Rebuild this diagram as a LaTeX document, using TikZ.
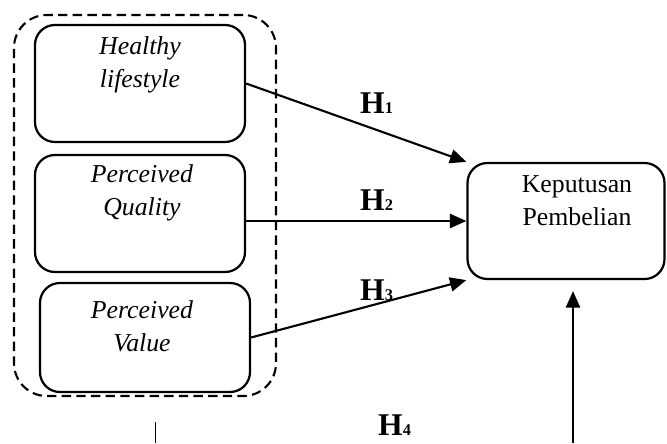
\documentclass[tikz,border=0pt]{standalone}
\usepackage{fontspec}
\setmainfont{Liberation Serif}
\usetikzlibrary{arrows.meta}
\newcommand{\hipo}[1]{H{\fontsize{14}{14}\selectfont #1}}

\begin{document}
\begin{tikzpicture}[x=0.03cm, y=-0.03cm,
    caixa/.style={draw, line width=1.9pt, rounded corners=17pt},
    grupo/.style={draw, line width=1.8pt, dash pattern=on 8pt off 4.5pt, rounded corners=28pt},
    texto/.style={font=\fontsize{22}{28}\selectfont, align=center, inner sep=0pt, anchor=base},
    italico/.style={texto, font=\fontsize{22}{28}\selectfont\itshape},
    rotulo/.style={font=\fontsize{27}{30}\selectfont\bfseries, inner sep=0pt, text depth=0pt, anchor=base west},
    seta/.style={line width=1.8pt, -{Triangle[length=14pt, width=12pt]}}]
    \useasboundingbox (0,0) rectangle (667,443);
    % caixa tracejada em volta das variaveis
    \node[grupo, minimum width=7.86cm, minimum height=11.43cm] (G) at (145,205.5) {};
    % caixas das variaveis independentes
    \node[caixa, minimum width=6.3cm, minimum height=3.51cm] (HL) at (140,83.5) {};
    \node[italico] (HLt) at (140,87) {Healthy\\lifestyle};
    \node[caixa, minimum width=6.3cm, minimum height=3.51cm] (PQ) at (140,213.5) {};
    \node[italico] (PQt) at (142,215) {Perceived\\Quality};
    \node[caixa, minimum width=6.3cm, minimum height=3.27cm] (PV) at (145,337.5) {};
    \node[italico] (PVt) at (142,351) {Perceived\\Value};
    % caixa da variavel dependente
    \node[caixa, minimum width=5.91cm, minimum height=3.48cm] (KP) at (566,221) {};
    \node[texto] (KPt) at (577,225) {Keputusan\\Pembelian};
    % setas com as hipoteses
    \draw[seta] (HL.east) -- (KP.north west);
    \draw[seta] (PQ.east |- KP.west) -- (KP.west);
    \draw[seta] (PV.east) -- (KP.south west);
    \node[rotulo] (H1) at (360,113) {\hipo{1}};
    \node[rotulo] (H2) at (360,210) {\hipo{2}};
    \node[rotulo] (H3) at (360,300) {\hipo{3}};
    \node[rotulo] (H4) at (378,435) {\hipo{4}};
    % seta vertical que vem de baixo
    \coordinate (B4) at (573,443);
    \draw[seta, shorten >=0.33cm] (B4) -- (B4 |- KP.south);
    % trecho de linha cortado
    \coordinate (S1) at (155,422);
    \coordinate (S2) at (155,443);
    \draw[line width=0.8pt] (S1) -- (S2);
  \end{tikzpicture}
\end{document}
